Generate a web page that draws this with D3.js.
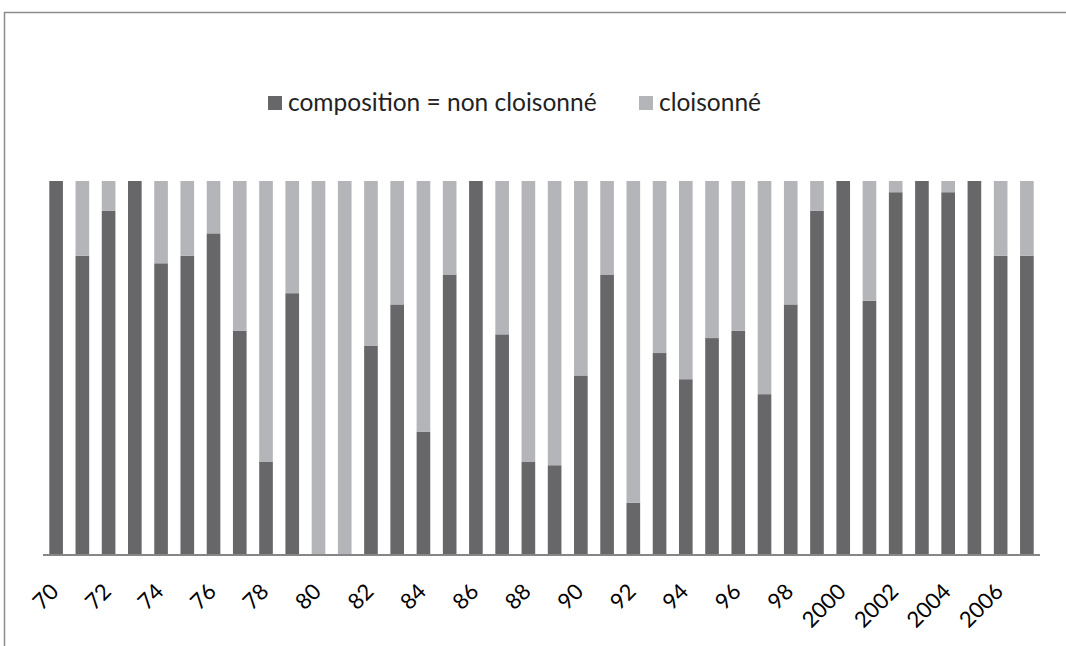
<!DOCTYPE html>
<html><head><meta charset="utf-8">
<script src="https://cdn.jsdelivr.net/npm/d3@7"></script>
<style>html,body{margin:0;padding:0;background:#fff;}</style>
</head><body><svg id="c" width="1066" height="646"></svg>
<script>
const years = ["70","71","72","73","74","75","76","77","78","79","80","81","82","83","84","85","86","87","88","89","90","91","92","93","94","95","96","97","98","99","2000","2001","2002","2003","2004","2005","2006","2007"];
const tickLabels = ["70","72","74","76","78","80","82","84","86","88","90","92","94","96","98","2000","2002","2004","2006"];
const nonCloisonne = [1.00,0.80,0.92,1.00,0.78,0.80,0.86,0.60,0.25,0.70,0.00,0.00,0.56,0.67,0.33,0.75,1.00,0.59,0.25,0.24,0.48,0.75,0.14,0.54,0.47,0.58,0.60,0.43,0.67,0.92,1.00,0.68,0.97,1.00,0.97,1.00,0.80,0.80];
const cloisonne = nonCloisonne.map(v => +(1 - v).toFixed(2));
const seriesNames = ["composition = non cloisonné", "cloisonné"];
const colors = ["#676769", "#b4b5b8"];

const svg = d3.select("#c");
const font = "Lato, 'Open Sans', sans-serif";

// chart frame
svg.append("path").attr("d", "M4.5,646 L4.5,12.5 L1066,12.5").attr("fill","none").attr("stroke","#8c8c8c").attr("stroke-width",1.5);

const x = d3.scaleBand().domain(years).range([43, 1040]).paddingInner(0.48).paddingOuter(0.24);
const y = d3.scaleLinear().domain([0, 1]).range([555, 181]);

const data = years.map((yr, i) => ({year: yr, a: nonCloisonne[i], b: cloisonne[i]}));
const stack = d3.stack().keys(["a","b"])(data);

stack.forEach((layer, k) => {
  svg.append("g").selectAll("rect").data(layer).join("rect")
    .attr("x", d => x(d.data.year))
    .attr("width", x.bandwidth())
    .attr("y", d => y(d[1]))
    .attr("height", d => Math.max(0, y(d[0]) - y(d[1])))
    .attr("fill", colors[k]);
});

// axis
const xAxis = d3.axisBottom(x).tickValues(tickLabels).tickSize(0).tickFormat(d => d);
const gx = svg.append("g").attr("transform", "translate(0,555)").call(xAxis);
gx.select(".domain").attr("stroke", "#868686").attr("stroke-width", 2).attr("d", "M43,0H1040");
gx.selectAll("text")
  .attr("font-family", font).attr("font-size", 22).attr("fill", "#000")
  .attr("text-anchor", "end")
  .attr("y", 0).attr("dy", 0)
  .attr("transform", "translate(4,38) rotate(-45)");

// legend
const lg = svg.append("g").attr("font-family", font).attr("font-size", 24.5);
const legendX = [268, 639];
seriesNames.forEach((n, i) => {
  lg.append("rect").attr("x", legendX[i]).attr("y", 96).attr("width", 14).attr("height", 14).attr("fill", colors[i]);
  lg.append("text").attr("x", legendX[i] + 20).attr("y", 111).text(n).attr("fill", "#222");
});
</script></body></html>
